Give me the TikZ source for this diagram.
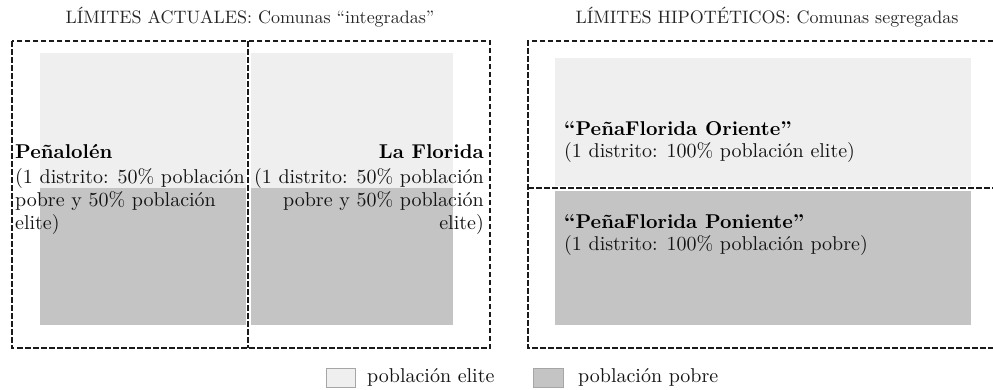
\documentclass[tikz,border=0pt]{standalone}
\usepackage{fontspec}
\setmainfont{Latin Modern Roman}[OpticalSize=10]
\definecolor{elite}{HTML}{EFEFEF}
\definecolor{pobre}{HTML}{C4C4C4}
\definecolor{borde}{HTML}{1A1A1A}
\begin{document}
\begin{tikzpicture}[x=1pt,y=-1pt,
  frontera/.style={draw=borde, line width=2pt, dash pattern=on 5.5pt off 2.5pt},
  halo/.style={draw=white, line width=5pt},
  titulo/.style={font=\fontsize{18}{20}\selectfont, inner sep=0pt, text=black!85},
  cuerpo/.style={font=\fontsize{20}{23}\selectfont, inner sep=0pt, text=black!92},
  nombre/.style={font=\fontsize{20}{23}\selectfont\bfseries, inner sep=0pt, text=black},
  leyenda/.style={draw=black!35, line width=0.8pt}]
\useasboundingbox (0,0) rectangle (993,389);
% zonas
\fill[elite] (40,53) rectangle (453,188);
\fill[pobre] (40,188) rectangle (453,325);
\fill[elite] (555,58) rectangle (971,188);
\fill[pobre] (555,188) rectangle (971,325);
% limites actuales
\draw[halo] (248,41) -- (248,348);
\draw[frontera] (12,41) rectangle (490,348);
\draw[frontera] (248,41) -- (248,348);
% limites hipoteticos
\draw[halo] (528,188) -- (993,188);
\draw[frontera] (993,41) -- (528,41) -- (528,348) -- (993,348);
\draw[frontera] (528,188) -- (993,188);
% titulos
\node[titulo, anchor=base] (t1) at (250,23) {LÍMITES ACTUALES: Comunas “integradas”};
\node[titulo, anchor=base] (t2) at (767,23) {LÍMITES HIPOTÉTICOS: Comunas segregadas};
% Penalolen
\node[nombre, anchor=base west] (pen) at (15,158) {Peñalolén};
\node[cuerpo, anchor=base west] (pen1) at (15,183) {(1 distrito: 50\% población};
\node[cuerpo, anchor=base west] (pen2) at (15,206) {pobre y 50\% población};
\node[cuerpo, anchor=base west] (pen3) at (15,229) {elite)};
% La Florida
\node[nombre, anchor=base east] (flo) at (484,158) {La Florida};
\node[cuerpo, anchor=base east] (flo1) at (484,183) {(1 distrito: 50\% población};
\node[cuerpo, anchor=base east] (flo2) at (484,206) {pobre y 50\% población};
\node[cuerpo, anchor=base east] (flo3) at (484,229) {elite)};
% hipoteticas
\node[nombre, anchor=base west] (ori) at (564,135) {“PeñaFlorida Oriente”};
\node[cuerpo, anchor=base west] (ori1) at (564,157) {(1 distrito: 100\% población elite)};
\node[nombre, anchor=base west] (pon) at (564,228) {“PeñaFlorida Poniente”};
\node[cuerpo, anchor=base west] (pon1) at (564,250) {(1 distrito: 100\% población pobre)};
% leyenda
\draw[leyenda, fill=elite] (326,368) rectangle (355,387);
\node[cuerpo, anchor=base west] (le) at (367,382) {población elite};
\draw[leyenda, fill=pobre] (533,368) rectangle (563,387);
\node[cuerpo, anchor=base west] (lp) at (578,382) {población pobre};
\end{tikzpicture}
\end{document}
